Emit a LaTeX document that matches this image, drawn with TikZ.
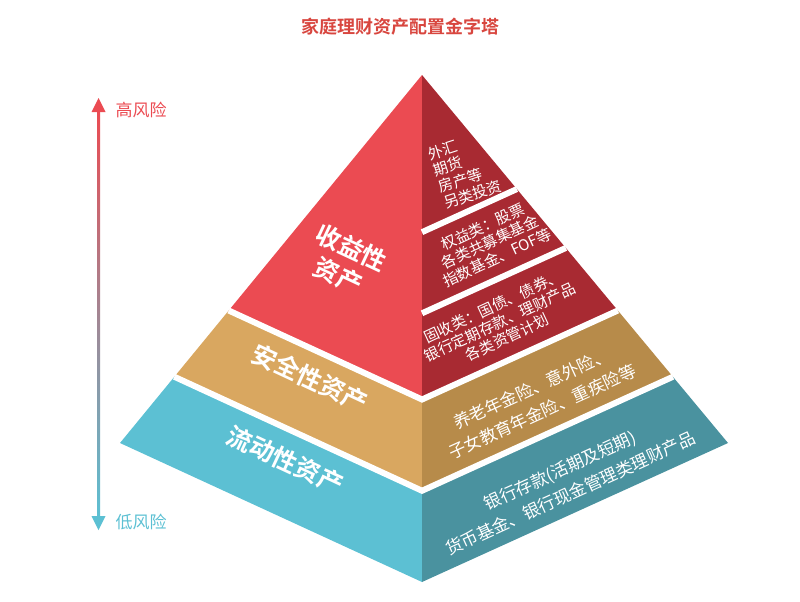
\documentclass[tikz,border=0pt]{standalone}
\usepackage{fontspec}
\newfontfamily\cjk{Noto Sans CJK SC}
\newfontfamily\cjkb{Noto Sans CJK SC Bold}
\definecolor{rL}{HTML}{EB4B52}
\definecolor{rR}{HTML}{A82A32}
\definecolor{gL}{HTML}{D9A760}
\definecolor{gR}{HTML}{B78B4A}
\definecolor{tL}{HTML}{5CC0D3}
\definecolor{tR}{HTML}{4A929F}
\definecolor{ttl}{HTML}{D8463F}
\newcommand{\Lp}[1]{({422-302*#1},{75+368*#1})}
\newcommand{\Rp}[1]{({422+306*#1},{75+368*#1})}
\newcommand{\Bp}[1]{(422,{75+507*#1})}
\begin{document}
\begin{tikzpicture}[x=1pt,y=-1pt,font=\cjk,
  gap/.style={white,line width=6pt},
  lface/.style={white,font=\cjkb\fontsize{25}{31}\selectfont,align=center,rotate=-25},
  rface/.style={white,font=\cjk\fontsize{15}{17}\selectfont,align=center,rotate=25},
  rface2/.style={white,font=\cjk\fontsize{17}{25}\selectfont,align=center,rotate=24.5}]
\useasboundingbox (0,0) rectangle (800,602);
% faces
\fill[rL] \Lp{0} -- \Lp{0.64} -- \Bp{0.64} -- \Bp{0} -- cycle;
\fill[rR] \Bp{0} -- \Bp{0.64} -- \Rp{0.64} -- cycle;
\fill[gL] \Lp{0.64} -- \Lp{0.82} -- \Bp{0.82} -- \Bp{0.64} -- cycle;
\fill[gR] \Bp{0.64} -- \Bp{0.82} -- \Rp{0.82} -- \Rp{0.64} -- cycle;
\fill[tL] \Lp{0.82} -- \Lp{1} -- \Bp{1} -- \Bp{0.82} -- cycle;
\fill[tR] \Bp{0.82} -- \Bp{1} -- \Rp{1} -- \Rp{0.82} -- cycle;
% gaps
\draw[gap] \Bp{0.31} -- \Rp{0.31};
\draw[gap] \Bp{0.47} -- \Rp{0.47};
\draw[gap] \Lp{0.64} -- \Bp{0.64} -- \Rp{0.64};
\draw[gap] \Lp{0.82} -- \Bp{0.82} -- \Rp{0.82};
% title
\node[ttl,font=\cjkb\fontsize{18}{20}\selectfont] (title) at (400,27) {家庭理财资产配置金字塔};
% left labels
\node[lface] (shouyi) at (345,262) {收益性\\资产};
\node[lface] (anquan) at (310,378) {安全性资产};
\node[lface] (liudong) at (285,460) {流动性资产};
% right labels
\node[rface,rotate=-7,align=left] (waihui) at (465,170) {外汇\\期货\\房产等\\另类投资};
\node[rface] (quanyi) at (490,242) {权益类：股票\\各类共募集基金\\指数基金、FOF等};
\node[rface] (gushou) at (500,322) {固收类：国债、债券、\\银行定期存款、理财产品\\各类资管计划};
\node[rface2] (yanglao) at (537,400) {养老年金险、意外险、\\子女教育年金险、重疾险等};
\node[rface2] (yinhang) at (565,482) {银行存款(活期及短期)\\货币基金、银行现金管理类理财产品};
% risk arrow
\shade[top color=rL,bottom color=tL] (97,110) rectangle (100,518);
\coordinate (topA) at (98.5,98);
\coordinate (botA) at (98.5,530);
\fill[rL] (topA) -- ++(-7,14) -- ++(14,0) -- cycle;
\fill[tL] (botA) -- ++(-7,-14) -- ++(14,0) -- cycle;
\node[rL,font=\cjk\fontsize{17}{20}\selectfont,anchor=west] (gao) at (112,110) {高风险};
\node[tL,font=\cjk\fontsize{17}{20}\selectfont,anchor=west] (di) at (112,522) {低风险};
\end{tikzpicture}
\end{document}
